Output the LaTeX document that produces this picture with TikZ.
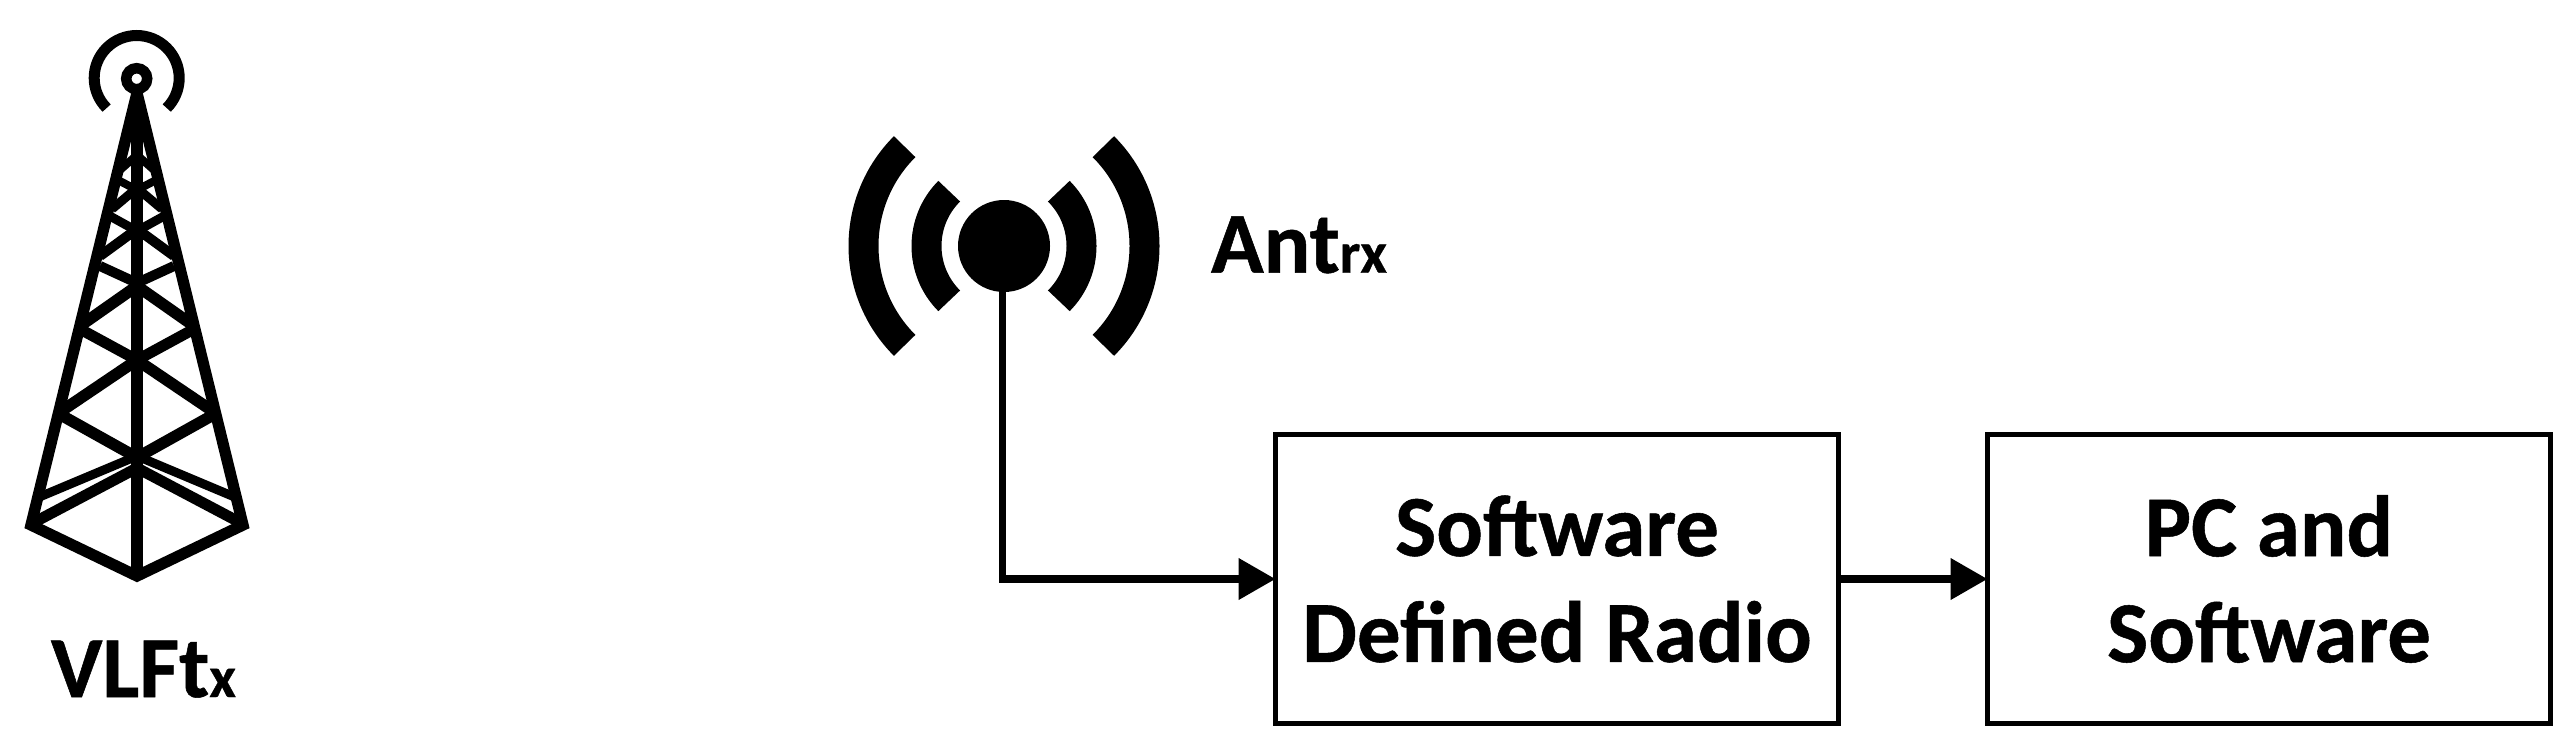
\documentclass[tikz,border=0pt]{standalone}
\usepackage{fontspec}
\setmainfont[BoldFeatures={FakeBold=0.6}]{Carlito}
\usetikzlibrary{arrows.meta}
\tikzset{
  x=1pt,y=1pt,
  lbl/.style={inner sep=0pt,outer sep=0pt,font=\fontsize{87}{106}\selectfont\bfseries},
  blockbox/.style={draw=black,line width=5pt,inner sep=0pt,outer sep=0pt,minimum width=563pt,minimum height=289pt,align=center,font=\fontsize{87}{106}\selectfont\bfseries},
  conn/.style={draw=black,line width=7.5pt,-{Triangle[length=37pt,width=40pt]}},
  truss/.style={line width=11pt,line cap=butt},
  wave/.style={line width=30pt,line cap=butt}
}
\newcommand{\subsc}[1]{{\fontsize{58}{60}\selectfont #1}}
\begin{document}
\begin{tikzpicture}
\useasboundingbox (0,0) rectangle (2572,-742);
% tower
\draw[line width=10.5pt] (136.7,-78.7) circle (10.5);
\draw[line width=11pt] (136.7,-78) ++(-45:42.5) arc (-45:225:42.5);
\draw[line width=12pt] (137,-90) -- (137,-575);
\draw[line width=11.3pt,line join=miter] (137,-93) -- (31,-525) -- (137,-576) -- (243,-525) -- (137,-93);
\foreach \s in {1,-1}{
 \begin{scope}[shift={(137,0)},xscale=\s]
  \draw[truss,line width=11pt] (-106,-524) -- (0,-468);
  \draw[truss,line width=9pt] (-100,-498) -- (0,-456);
  \draw[truss,line width=11.5pt] (-77,-414.5) -- (0,-457.5);
  \draw[truss,line width=11.5pt] (-77,-412) -- (0,-360);
  \draw[truss,line width=11pt] (-57,-329) -- (0,-360);
  \draw[truss,line width=11.5pt] (-57,-326) -- (0,-286);
  \draw[truss,line width=10pt] (-37,-266) -- (0,-283);
  \draw[truss,line width=10pt] (-37,-256) -- (0,-229);
  \draw[truss,line width=9pt] (-29,-215) -- (0,-231);
  \draw[truss,line width=9pt] (-25,-209) -- (0,-188);
  \draw[truss,line width=8pt] (-21,-179) -- (0,-190);
  \draw[truss,line width=8pt] (-17,-170) -- (0,-155);
 \end{scope}}
% antenna
\node[circle,fill=black,inner sep=0pt,outer sep=0pt,minimum size=92pt] (ant) at (1004,-246) {};
\foreach \r in {77.5,140.5}{
  \draw[wave] (1004,-246) ++(135:\r) arc (135:225:\r);
  \draw[wave] (1004,-246) ++(-45:\r) arc (-45:45:\r);
}
% labels
\node[lbl,anchor=base west] (vlf) at (51,-697) {VLFt\subsc{x}};
\node[lbl,anchor=base west] (antl) at (1211,-272.7) {Ant\subsc{rx}};
% blocks
\node[blockbox] (sdr) at (1557,-579) {Software\\Defined Radio};
\node[blockbox] (pc) at (2269,-579) {PC and\\Software};
\draw[conn] (ant.south -| 1002.5,0) |- (sdr.west);
\draw[conn] (sdr.east) -- (pc.west);
\end{tikzpicture}
\end{document}
